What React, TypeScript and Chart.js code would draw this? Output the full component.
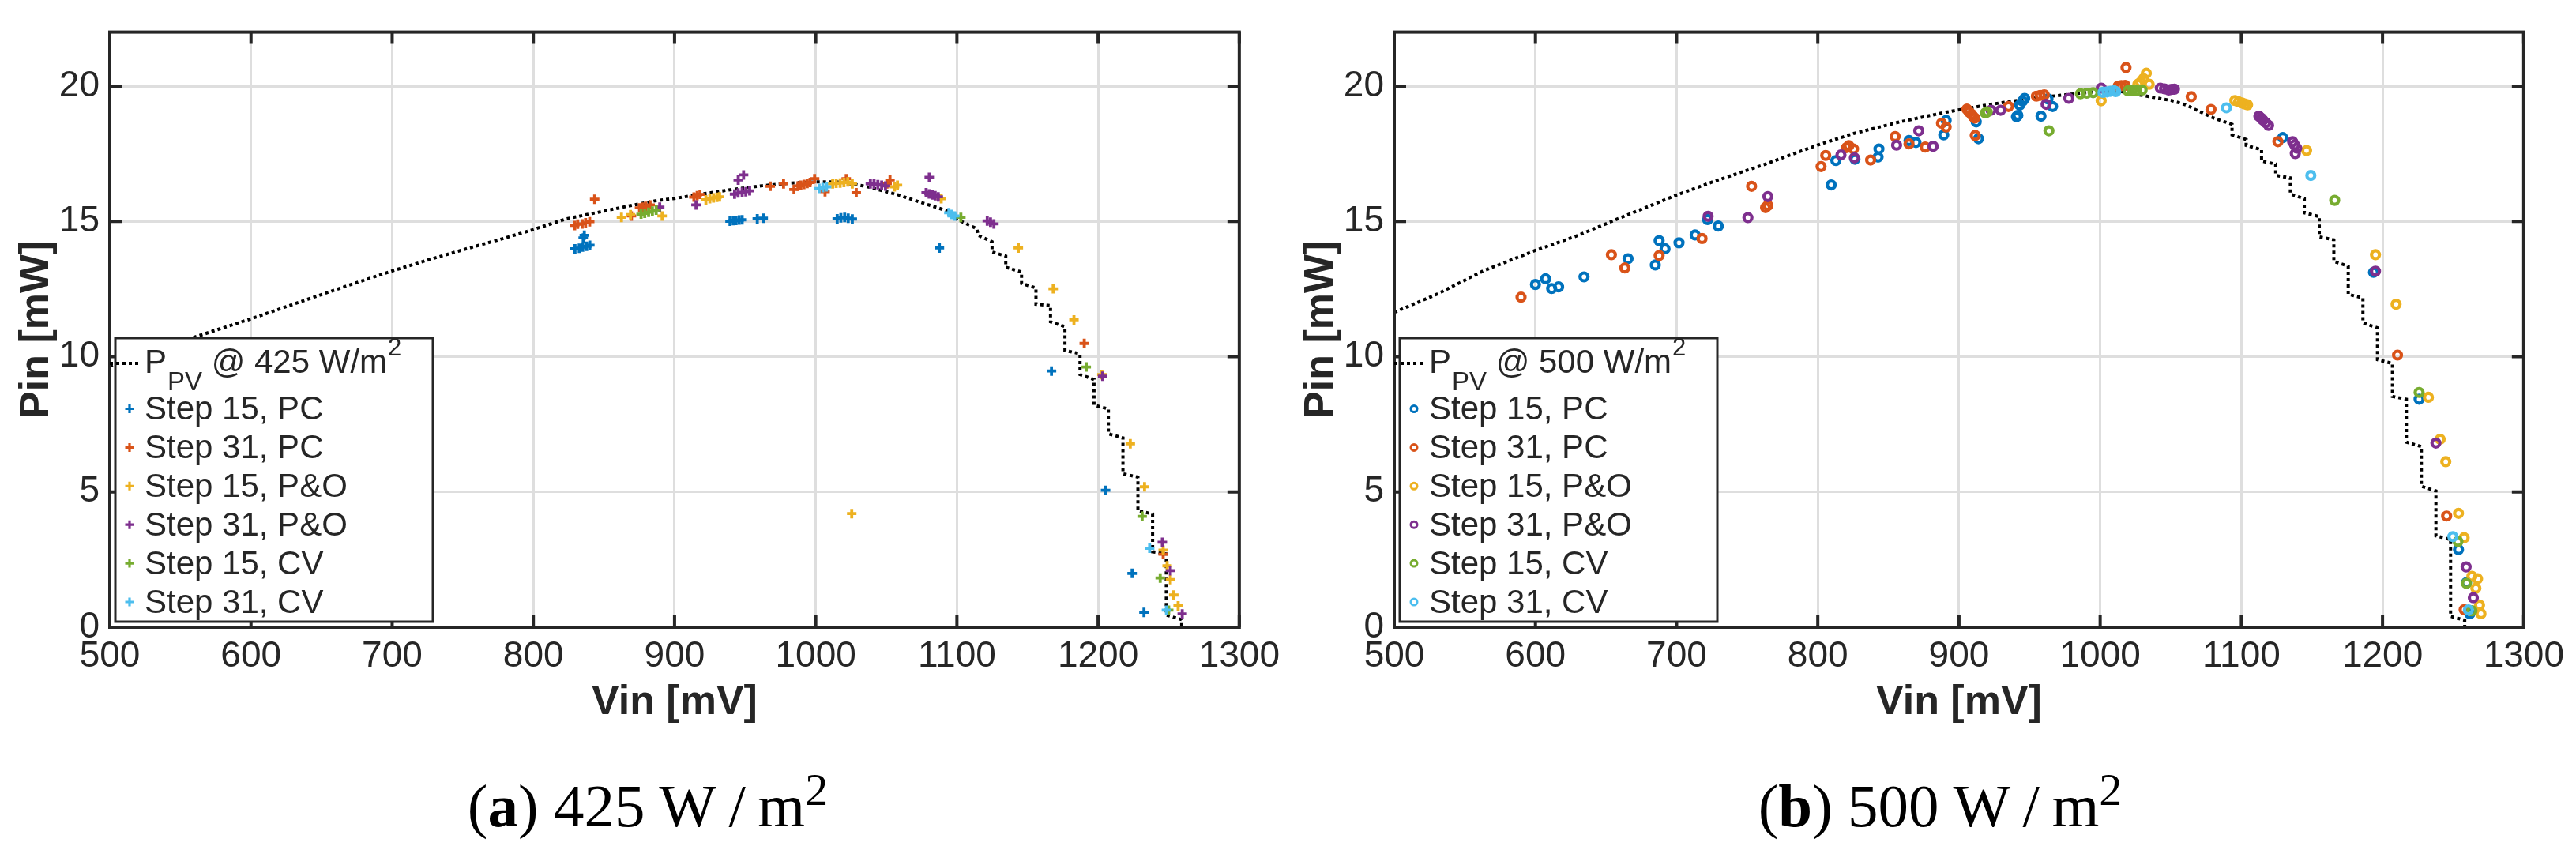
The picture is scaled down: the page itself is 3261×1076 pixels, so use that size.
import React, { useEffect, useRef } from 'react';
import { Chart, registerables } from 'chart.js';

Chart.register(...registerables);

type Pt = [number, number];

const FONT = "'Liberation Sans', Arial, Helvetica, sans-serif";
const INK = '#262626';

const seriesNames = ['Step 15, PC', 'Step 31, PC', 'Step 15, P&O', 'Step 31, P&O', 'Step 15, CV', 'Step 31, CV'];
const seriesColors = ['#0072BD', '#D95319', '#EDB120', '#7E2F8E', '#77AC30', '#4DBEEE'];
const xTicks = [500, 600, 700, 800, 900, 1000, 1100, 1200, 1300];
const yTicks = [0, 5, 10, 15, 20];

// ---- 425 W/m2 : PV curve [Vin mV, Pin mW] ----
const pv425: Pt[] = [
  [500, 9.65], [525, 10.1], [550, 10.55], [575, 10.98], [600, 11.4], [625, 11.85], [650, 12.3], [675, 12.74],
  [700, 13.17], [725, 13.57], [750, 13.95], [780, 14.39], [800, 14.7], [822.9, 15.09], [844.2, 15.32],
  [865.6, 15.55], [887, 15.77], [900, 15.85], [919, 16.01], [940.4, 16.18], [961.8, 16.32], [983.1, 16.42],
  [1000, 16.46], [1015.2, 16.46], [1028, 16.37], [1037.6, 16.27], [1057.9, 15.99], [1074.9, 15.7],
  [1093.6, 15.38], [1100, 15.08], [1114.1, 14.73], [1115, 14.49], [1124.9, 14.25], [1124.9, 13.87],
  [1134.6, 13.72], [1134.6, 13.31], [1145.8, 13.13], [1145.8, 12.71], [1156, 12.54], [1156, 11.94],
  [1166.3, 11.89], [1166.3, 11.29], [1176.5, 11.11], [1176.5, 10.23], [1187.2, 10.11], [1187.2, 9.34],
  [1197.1, 9.16], [1197.1, 8.21], [1207.3, 8.07], [1207.3, 7.15], [1217.6, 7.0], [1217.6, 5.67],
  [1228.2, 5.55], [1228.2, 4.3], [1238.6, 4.19], [1238.6, 2.79], [1248.3, 2.71], [1248.3, 0.45],
  [1259.2, 0.28], [1259.2, 0],
];
const pc15_425: Pt[] = [
  [829.5, 13.99], [832.5, 14.01], [835, 14.05], [837.8, 14.08], [840, 14.12], [836.1, 14.49], [835.3, 14.39],
  [939.3, 15.01], [941.5, 15.03], [943.6, 15.04], [945.8, 15.05], [947.9, 15.06], [958.6, 15.1], [962.8, 15.12],
  [1015.2, 15.1], [1017.8, 15.13], [1020.5, 15.15], [1023, 15.12], [1025.9, 15.09],
  [1087.6, 14.02], [1167, 9.47], [1205.3, 5.06], [1224.1, 1.99], [1232.5, 0.55],
];
const pc31_425: Pt[] = [
  [829.3, 14.85], [831.4, 14.9], [834.6, 14.91], [837, 14.95], [839.9, 14.99], [843.4, 15.82],
  [869.5, 15.2], [875.2, 15.5], [877.5, 15.53], [879.5, 15.56], [882.7, 15.61],
  [913.7, 15.9], [916, 15.95], [918, 16.0], [967.8, 16.3], [977.2, 16.39], [984.6, 16.18],
  [987.4, 16.31], [989.5, 16.34], [991.7, 16.37], [994, 16.4], [996, 16.44], [999.2, 16.58],
  [1006.6, 16.1], [1021.6, 16.58], [1028.7, 16.06], [1050.5, 16.39], [1052.6, 16.53],
  [1190.2, 10.49], [1246.1, 2.7],
];
const po15_425: Pt[] = [
  [862.4, 15.15], [868.8, 15.25], [891.2, 15.2], [922.2, 15.8], [925, 15.84], [927.6, 15.87], [930, 15.89],
  [931.9, 15.91], [1012, 16.39], [1014.5, 16.41], [1017.3, 16.42], [1020, 16.44], [1022.7, 16.46],
  [1025.9, 16.39], [1025.5, 4.2], [1055.8, 16.28], [1057.9, 16.34], [1088.9, 15.84],
  [1143.5, 14.02], [1168.2, 12.51], [1182.9, 11.36], [1202.7, 9.34], [1222.8, 6.78], [1232.9, 5.19],
  [1246.1, 2.85], [1248.9, 2.27], [1251.2, 1.76], [1253.6, 1.19], [1256.7, 0.79],
];
const po31_425: Pt[] = [
  [889.5, 15.53], [915.2, 15.61], [942.5, 16.01], [945, 16.05], [947.9, 16.08], [950.5, 16.1], [953.2, 16.13],
  [945.1, 16.53], [948.9, 16.72], [1038.7, 16.39], [1041.3, 16.38], [1044, 16.36], [1046.7, 16.34],
  [1049.4, 16.31], [1080.4, 16.63], [1078.2, 16.06], [1080.3, 16.02], [1082.5, 15.98], [1084.6, 15.95],
  [1086.8, 15.91], [1121.5, 15.02], [1123.8, 14.97], [1126.2, 14.91],
  [1203.2, 9.28], [1245.5, 3.14], [1251.2, 2.09], [1259.6, 0.49],
];
const cv15_425: Pt[] = [
  [876.3, 15.27], [878.9, 15.3], [881.6, 15.34], [884.3, 15.38], [887, 15.42], [1102.8, 15.15],
  [1191.6, 9.62], [1231.2, 4.1], [1244, 1.82], [1250, 0.63],
];
const cv31_425: Pt[] = [
  [1002.4, 16.22], [1005, 16.25], [1007.7, 16.28], [1094.3, 15.32], [1096.4, 15.26], [1098.5, 15.2],
  [1236.5, 2.92], [1248.4, 0.63],
];

// ---- 500 W/m2 ----
const pv500: Pt[] = [
  [500, 11.64], [530.2, 12.31], [563, 13.17], [600, 13.93], [628.5, 14.45], [661.3, 15.16], [699.7, 15.97],
  [726.9, 16.49], [759.7, 17.06], [799.7, 17.82], [825.3, 18.25], [858.1, 18.68], [890.9, 19.04],
  [923.6, 19.34], [956.4, 19.58], [982.7, 19.72], [1000.8, 19.82], [1015, 19.8], [1030.7, 19.65],
  [1050.6, 19.47], [1060.6, 19.31], [1070.5, 19.06], [1080.5, 18.82], [1093.4, 18.59], [1093.4, 18.2],
  [1103.4, 18.03], [1103.4, 17.81], [1114.3, 17.65], [1114.3, 17.23], [1124.3, 17.12], [1124.3, 16.7],
  [1134.7, 16.61], [1134.7, 16.01], [1144.6, 15.84], [1144.6, 15.32], [1155.2, 15.18], [1155.2, 14.43],
  [1165.5, 14.32], [1165.5, 13.52], [1175.7, 13.35], [1175.7, 12.31], [1186.1, 12.17], [1186.1, 11.25],
  [1196.4, 11.07], [1196.4, 9.89], [1207, 9.75], [1207, 8.53], [1216.9, 8.43], [1216.9, 6.84],
  [1227.5, 6.68], [1227.5, 5.21], [1237.8, 5.04], [1237.8, 3.38], [1248.2, 3.24], [1248.2, 0.4],
  [1258.2, 0.26], [1258.2, 0],
];
const pc15_500: Pt[] = [
  [600, 12.67], [607.2, 12.88], [611.5, 12.52], [616.4, 12.58], [634.4, 12.95], [665.6, 13.62], [684.9, 13.39],
  [687.6, 14.29], [691.8, 13.99], [701.7, 14.21], [713.1, 14.5], [722, 15.07], [729.5, 14.83],
  [809.5, 16.35], [812.8, 17.25], [826.3, 17.3], [842.7, 17.38], [843.3, 17.68], [864.6, 17.99],
  [869.5, 17.92], [889.2, 18.2], [890.9, 18.73], [912.2, 18.68], [913.8, 18.06], [940.7, 18.87],
  [941.7, 18.92], [943, 19.3], [945, 19.45], [946.5, 19.55], [958.1, 18.89], [966.3, 19.25], [963, 19.53],
  [1129.3, 18.1], [1193.6, 13.12], [1225.9, 8.43], [1253.8, 2.87], [1259.4, 1.65], [1261.8, 0.5],
];
const pc31_500: Pt[] = [
  [589.8, 12.2], [653.8, 13.77], [663.3, 13.28], [687.6, 13.74], [718, 14.37], [753.1, 16.3], [763, 15.51],
  [764.6, 15.59], [802.3, 17.03], [805.6, 17.44], [820.4, 17.73], [822, 17.8], [825.3, 17.68],
  [837.4, 17.27], [854.8, 18.14], [864.6, 17.87], [876.1, 17.75], [887.6, 18.63], [890.9, 18.49],
  [905.6, 19.15], [907, 19.05], [908.9, 18.96], [910, 18.88], [911.2, 18.82], [911.5, 18.18],
  [935.1, 19.25], [954.8, 19.63], [957.5, 19.66], [960.4, 19.68], [1012.7, 20.0], [1015, 20.02],
  [1017.7, 20.03], [1018.3, 20.69], [1064.5, 19.61], [1078.5, 19.14], [1125.9, 17.95], [1210.6, 10.06],
  [1245.4, 4.11], [1257.8, 0.65],
];
const po15_500: Pt[] = [
  [1000.7, 19.46], [1026.7, 20.07], [1028.7, 20.15], [1030.7, 20.28], [1032.7, 20.48], [1034.7, 20.07],
  [1095.4, 19.47], [1098, 19.42], [1100.4, 19.38], [1102.4, 19.34], [1104.4, 19.31], [1146.2, 17.62],
  [1195, 13.77], [1209.6, 11.94], [1232.5, 8.5], [1240.8, 6.95], [1244.8, 6.12], [1253.8, 4.21],
  [1257.8, 3.31], [1263.3, 1.88], [1267.3, 1.79], [1266.1, 1.44], [1268.7, 0.82], [1269.7, 0.5],
];
const po31_500: Pt[] = [
  [722.3, 15.19], [750.5, 15.14], [764.6, 15.92], [816.4, 17.46], [825.9, 17.35], [855.8, 17.82],
  [871.5, 18.35], [881.7, 17.78], [922.7, 19.11], [929.5, 19.11], [961.7, 19.33], [977.8, 19.55],
  [1000.8, 19.93], [1042.6, 19.93], [1045.6, 19.9], [1048.6, 19.86], [1050.6, 19.88], [1052.6, 19.89],
  [1112.4, 18.89], [1114, 18.82], [1115.3, 18.75], [1117.3, 18.65], [1119.3, 18.55], [1136.3, 17.95],
  [1137.7, 17.83], [1139.2, 17.71], [1138.2, 17.51], [1195, 13.16], [1237.8, 6.81], [1259.2, 2.23],
  [1264.3, 1.09],
];
const cv15_500: Pt[] = [
  [918.7, 19.01], [920, 19.05], [963.7, 18.35], [986, 19.72], [990.5, 19.74], [995, 19.76], [1019.7, 19.83],
  [1022.7, 19.83], [1025.7, 19.83], [1029.7, 19.86], [1166.1, 15.78], [1225.9, 8.68], [1253.4, 3.17],
  [1259.4, 1.62], [1263.3, 0.61],
];
const cv31_500: Pt[] = [
  [1002, 19.77], [1004.8, 19.79], [1007.3, 19.81], [1009.8, 19.83], [1011, 19.8], [1089.4, 19.2],
  [1149.2, 16.7], [1249.8, 3.35], [1260.8, 0.64],
];

// matlab style box, inward ticks and the legend with sub/superscript
const boxPlugin = {
  id: 'matlabBox',
  afterDraw(chart: any, _args: any, opts: any) {
    const { ctx, chartArea: a, scales } = chart;
    const xs = scales.x;
    const ys = scales.y;
    ctx.save();
    ctx.setLineDash([]);
    ctx.strokeStyle = INK;
    ctx.lineWidth = 4;
    ctx.beginPath();
    xs.ticks.forEach((t: any) => {
      const p = xs.getPixelForValue(t.value);
      ctx.moveTo(p, a.bottom); ctx.lineTo(p, a.bottom - 15);
      ctx.moveTo(p, a.top); ctx.lineTo(p, a.top + 15);
    });
    ys.ticks.forEach((t: any) => {
      const p = ys.getPixelForValue(t.value);
      ctx.moveTo(a.left, p); ctx.lineTo(a.left + 15, p);
      ctx.moveTo(a.right, p); ctx.lineTo(a.right - 15, p);
    });
    ctx.stroke();
    ctx.strokeRect(a.left, a.top, a.right - a.left, a.bottom - a.top);

    // legend
    const W = 402, H = 359;
    const L = a.left + 7;
    const T = a.bottom - 7 - H;
    ctx.fillStyle = '#fff';
    ctx.fillRect(L, T, W, H);
    ctx.lineWidth = 3;
    ctx.strokeRect(L, T, W, H);

    const tx = L + 37;
    const base = T + 44;
    ctx.strokeStyle = '#000';
    ctx.lineWidth = 4;
    ctx.setLineDash([4, 4]);
    ctx.beginPath();
    ctx.moveTo(L - 7, base - 12);
    ctx.lineTo(L + 30, base - 12);
    ctx.stroke();
    ctx.setLineDash([]);

    ctx.fillStyle = INK;
    ctx.textAlign = 'left';
    ctx.textBaseline = 'alphabetic';
    let x = tx;
    ctx.font = `42px ${FONT}`;
    ctx.fillText('P', x, base);
    x += ctx.measureText('P').width + 1;
    ctx.font = `33px ${FONT}`;
    ctx.fillText('PV', x, base + 22);
    x += ctx.measureText('PV').width;
    ctx.font = `42px ${FONT}`;
    const rest = ` @ ${opts.irradiance} W/m`;
    ctx.fillText(rest, x, base);
    x += ctx.measureText(rest).width + 1;
    ctx.font = `31px ${FONT}`;
    ctx.fillText('2', x, base - 22);

    ctx.font = `42px ${FONT}`;
    chart.data.datasets.slice(1).forEach((ds: any, i: number) => {
      const b = T + 103 + i * 48.9;
      const mx = L + 18;
      const my = b - 13.5;
      ctx.strokeStyle = ds.borderColor;
      ctx.beginPath();
      if (ds.pointStyle === 'cross') {
        ctx.lineWidth = 3.2;
        ctx.moveTo(mx - 5.5, my); ctx.lineTo(mx + 5.5, my);
        ctx.moveTo(mx, my - 5.5); ctx.lineTo(mx, my + 5.5);
      } else {
        ctx.lineWidth = 3;
        ctx.arc(mx, my, 4, 0, Math.PI * 2);
      }
      ctx.stroke();
      ctx.fillStyle = INK;
      ctx.fillText(ds.label, tx, b);
    });
    ctx.restore();
  },
};

interface PanelProps {
  left: number;
  rightPad: number;
  irradiance: string;
  pv: Pt[];
  series: Pt[][];
  marker: 'cross' | 'circle';
}

const PvPanel: React.FC<PanelProps> = ({ left, rightPad, irradiance, pv, series, marker }) => {
  const canvasRef = useRef<HTMLCanvasElement | null>(null);

  useEffect(() => {
    const ctx = canvasRef.current?.getContext('2d');
    if (!ctx) return;
    Chart.defaults.font.family = FONT;

    const chart = new Chart(ctx, {
      type: 'scatter',
      data: {
        datasets: [
          {
            label: `PPV @ ${irradiance} W/m2`,
            data: pv.map(([x, y]) => ({ x, y })),
            showLine: true,
            borderColor: '#000',
            borderWidth: 4,
            borderDash: [4, 4],
            pointRadius: 0,
            tension: 0,
            fill: false,
            order: 10,
          } as any,
          ...series.map((s, i) => ({
            label: seriesNames[i],
            data: s.map(([x, y]) => ({ x, y })),
            pointStyle: marker,
            pointRadius: marker === 'cross' ? 6 : 5,
            borderColor: seriesColors[i],
            backgroundColor: 'rgba(0,0,0,0)',
            borderWidth: marker === 'cross' ? 3.8 : 4.2,
            pointBorderWidth: marker === 'cross' ? 3.8 : 4.2,
            showLine: false,
            order: 6 - i,
          })),
        ],
      },
      options: {
        responsive: false,
        animation: false,
        devicePixelRatio: 1,
        events: [],
        layout: { padding: { top: 24, right: rightPad, bottom: 0, left: 0 } },
        plugins: {
          legend: { display: false },
          tooltip: { enabled: false },
          matlabBox: { irradiance },
        } as any,
        scales: {
          x: {
            type: 'linear',
            min: 500,
            max: 1300,
            afterFit: (s: any) => { s.height = 127; },
            afterBuildTicks: (s: any) => { s.ticks = xTicks.map((v) => ({ value: v })); },
            ticks: { padding: 10, color: INK, font: { size: 46 }, maxRotation: 0, autoSkip: false, callback: (v: any) => String(v) },
            grid: { color: '#dedede', lineWidth: 3, drawTicks: false },
            border: { display: false },
            title: { display: true, text: 'Vin [mV]', color: INK, font: { size: 52, weight: 'bold' }, padding: 0 },
          },
          y: {
            type: 'linear',
            min: 0,
            max: 22,
            afterFit: (s: any) => { s.width = 139; },
            afterBuildTicks: (s: any) => { s.ticks = yTicks.map((v) => ({ value: v })); },
            ticks: { padding: 13, color: INK, font: { size: 46 }, autoSkip: false, callback: (v: any) => String(v) },
            grid: { color: '#dedede', lineWidth: 3, drawTicks: false },
            border: { display: false },
            title: { display: true, text: 'Pin [mW]', color: INK, font: { size: 52, weight: 'bold' }, padding: { top: 15, bottom: 0 } },
          },
        },
      } as any,
      plugins: [boxPlugin],
    });

    return () => {
      chart.destroy();
    };
  }, [irradiance, pv, series, marker, rightPad]);

  return (
    <canvas
      ref={canvasRef}
      width={1630}
      height={921}
      style={{ position: 'absolute', left, top: 0, width: 1630, height: 921 }}
    />
  );
};

const Caption: React.FC<{ center: number; tag: string; value: string }> = ({ center, tag, value }) => (
  <div
    style={{
      position: 'absolute',
      left: center - 400,
      top: 982,
      width: 800,
      textAlign: 'center',
      fontFamily: "'Liberation Serif', 'Times New Roman', serif",
      fontSize: 77,
      lineHeight: '77px',
      color: '#000',
      whiteSpace: 'nowrap',
    }}
  >
    (<b>{tag}</b>) {value} W{'\u2009'}/{'\u2009'}m
    <span style={{ fontSize: 58, position: 'relative', top: -27 }}>2</span>
  </div>
);

const App: React.FC = () => (
  <div style={{ position: 'absolute', left: 0, top: 0, width: 3261, height: 1076, background: '#fff', overflow: 'hidden' }}>
    <PvPanel
      left={0}
      rightPad={61}
      irradiance="425"
      pv={pv425}
      series={[pc15_425, pc31_425, po15_425, po31_425, cv15_425, cv31_425]}
      marker="cross"
    />
    <PvPanel
      left={1626}
      rightPad={58}
      irradiance="500"
      pv={pv500}
      series={[pc15_500, pc31_500, po15_500, po31_500, cv15_500, cv31_500]}
      marker="circle"
    />
    <Caption center={820} tag="a" value="425" />
    <Caption center={2456} tag="b" value="500" />
  </div>
);

export default App;
